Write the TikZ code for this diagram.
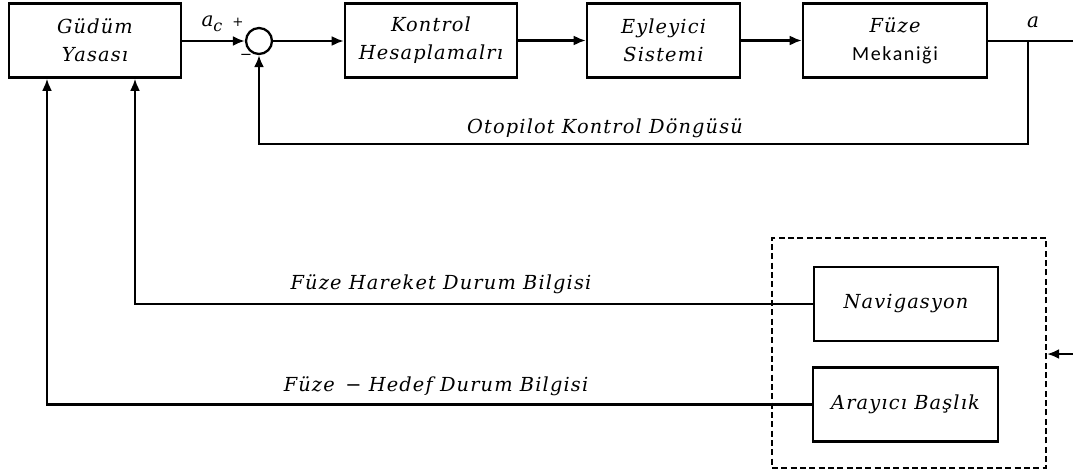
\documentclass[tikz,border=0pt]{standalone}
\usepackage{fontspec}
\newfontfamily\lab[LetterSpace=6]{DejaVu Serif}
\newfontfamily\sflab[LetterSpace=8]{Carlito}
\usetikzlibrary{arrows.meta}
\begin{document}
\begin{tikzpicture}[x=0.75pt,y=-0.75pt,
  line width=1.7pt,
  >={Latex[length=9pt,width=7.5pt]},
  blk/.style={draw,line width=1.9pt,minimum height=55.5pt,align=center,inner sep=0pt,
    font=\lab\itshape\fontsize{14.5}{21}\selectfont},
  txt/.style={font=\lab\itshape\fontsize{14.5}{17}\selectfont,inner sep=0pt},
  sumc/.style={draw,circle,line width=1.7pt,minimum size=19.5pt,inner sep=0pt}]
\useasboundingbox (0,0) rectangle (1073,475);

% forward path
\node[blk,minimum width=129pt] (g) at (95,40.5) {Güdüm\\Yasası};
\node[sumc] (sum) at (259,41) {};
\node[blk,minimum width=129pt] (k) at (431,40.5) {Kontrol\\Hesaplamalrı};
\node[blk,minimum width=114.75pt] (e) at (663.5,40.5) {Eyleyici\\Sistemi};
\node[blk,minimum width=138pt] (f) at (895,40.5) {Füze\\{\sflab\upshape\fontsize{15}{21}\selectfont Mekaniği}};

% sensor block
\node[draw,dash pattern=on 4.5pt off 2.5pt,line width=1.6pt,minimum width=205.5pt,minimum height=172.5pt] (sens) at (909,353) {};
\node[blk,minimum width=138pt] (nav) at (906,304) {Navigasyon};
\node[blk,minimum width=138.75pt] (ara) at (905.5,404.5) {Arayıcı Başlık};

\coordinate (out) at (1073,41);
\coordinate (br) at (1028,41);
\coordinate (fb) at (1028,144);
\coordinate (inp) at (1073,354);

\draw[->] (g.east |- sum) -- (sum.west);
\draw[->] (sum.east) -- (k.west |- sum);
\draw[->] (k.east) -- (e.west);
\draw[->] (e.east) -- (f.west);
\draw (f.east |- out) -- (out);
\draw[->] (br) -- (fb) -| (sum.south);
\draw[->] (inp) -- (sens.east |- inp);
\draw[->] (nav.west) -| ([xshift=30pt]g.south);
\draw[->] (ara.west) -| ([xshift=-36pt]g.south);

% labels
\node[txt] (lac) at (212,24) {\fontsize{15}{15}\selectfont a\raisebox{-3.5pt}{\fontsize{12}{12}\selectfont c}};
\node[txt] (lp) at (238,22) {\fontsize{10}{10}\selectfont +};
\node[txt] (lm) at (246,57) {\fontsize{11}{11}\selectfont −};
\node[txt] (la) at (1033,22) {\fontsize{15}{15}\selectfont a};
\node[txt] (lo) at (605,128) {Otopilot Kontrol Döngüsü};
\node[txt] (lh) at (441,284) {Füze Hareket Durum Bilgisi};
\node[txt] (lt) at (436,386) {Füze \,− Hedef Durum Bilgisi};
\end{tikzpicture}
\end{document}
